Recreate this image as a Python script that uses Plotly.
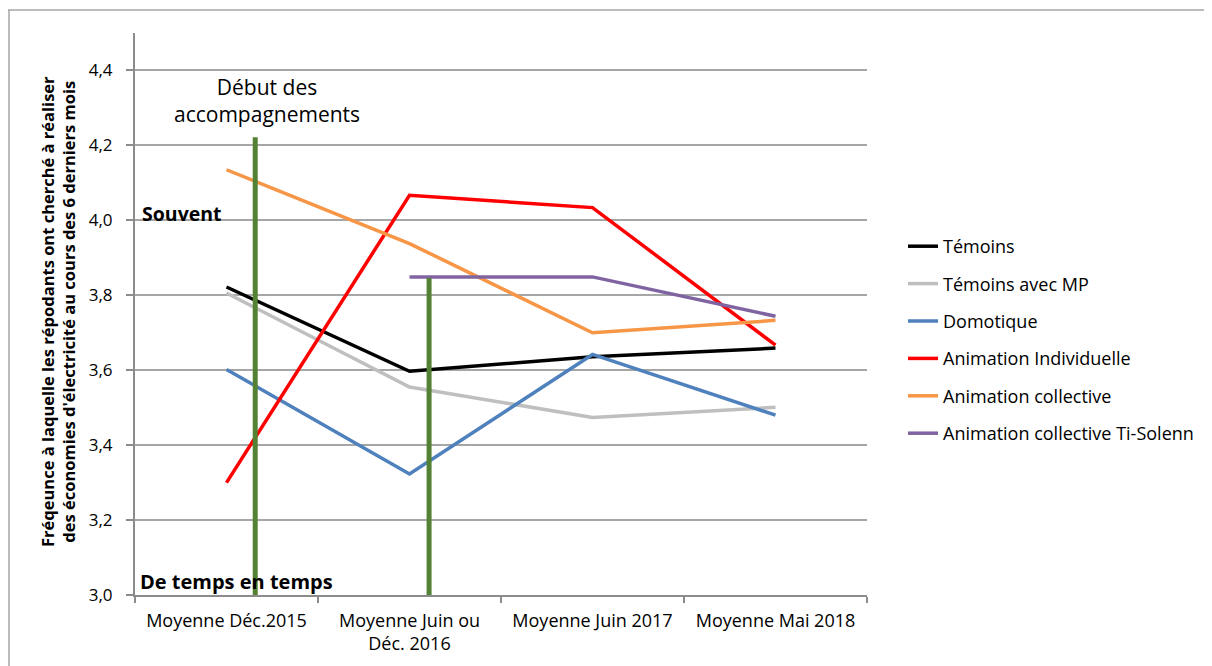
import plotly.graph_objects as go

# categories and series values
periodes = ["Moyenne Déc.2015", "Moyenne Juin ou<br>Déc. 2016", "Moyenne Juin 2017", "Moyenne Mai 2018"]

temoins = [3.822, 3.597, 3.636, 3.659]
temoins_mp = [3.806, 3.555, 3.474, 3.501]
domotique = [3.602, 3.323, 3.642, 3.480]
anim_indiv = [3.300, 4.067, 4.034, 3.667]
anim_coll = [4.135, 3.938, 3.700, 3.733]
anim_ti_solenn = [None, 3.849, 3.849, 3.744]

series_names = ["Témoins", "Témoins avec MP", "Domotique", "Animation Individuelle",
                "Animation collective", "Animation collective Ti-Solenn"]
series_colors = ["#000000", "#BFBFBF", "#4F81BD", "#FF0000", "#F79646", "#8064A2"]

# "Début des accompagnements" markers (category position, top value)
debut_x = [0.157, 1.107]
debut_top = [4.222, 3.846]

y_title = ("Fréqeunce à laquelle les répodants ont cherché à réaliser<br>"
           "des économies d'électricité au cours des 6 derniers mois")

# page body has an 8px margin, so the figure is a bit smaller than the window
OFF = 8
W, H = 1212 - OFF, 666 - OFF
# plot area, in screen pixels
SL, SR, ST, SB = 135, 867, 33, 595
L, R, T, B = SL - OFF, SR - OFF, ST - OFF, SB - OFF
font = "'Open Sans', sans-serif"

fig = go.Figure()

all_series = [temoins, temoins_mp, domotique, anim_indiv, anim_coll, anim_ti_solenn]
for i, (name, vals, col) in enumerate(zip(series_names, all_series, series_colors)):
    fig.add_trace(go.Scatter(
        x=periodes, y=vals, name=name, mode="lines",
        line=dict(color=col, width=3.5),
        legendgroup="g%d" % i,
        connectgaps=False,
    ))

# green vertical markers
for xv, top in zip(debut_x, debut_top):
    fig.add_shape(type="line", xref="x", yref="y", x0=xv, x1=xv, y0=2.995, y1=top,
                  line=dict(color="#548235", width=5), layer="above")

# screen pixel -> paper fraction
px = lambda v: (v - SL) / (SR - SL)
py = lambda v: (SB - v) / (SB - ST)

# outer frame (only top and left edges visible)
fig.add_shape(type="line", xref="paper", yref="paper", x0=px(8), x1=px(1230), y0=py(10), y1=py(10),
              line=dict(color="#A6A6A6", width=1.5))
fig.add_shape(type="line", xref="paper", yref="paper", x0=px(9), x1=px(9), y0=py(10), y1=py(700),
              line=dict(color="#A6A6A6", width=1.5))

fig.add_annotation(x=px(267), y=4.32, xref="paper", yref="y", text="Début des<br>accompagnements",
                   showarrow=False, font=dict(size=21, color="#000000", family=font),
                   xanchor="center", yanchor="middle")
fig.add_annotation(x=px(140), y=4.019, xref="paper", yref="y", text="<b>Souvent</b>",
                   showarrow=False, font=dict(size=19.5, color="#000000", family=font),
                   xanchor="left", yanchor="middle")
fig.add_annotation(x=px(138), y=3.037, xref="paper", yref="y", text="<b>De temps en temps</b>",
                   showarrow=False, font=dict(size=20, color="#000000", family=font),
                   xanchor="left", yanchor="middle")
fig.add_annotation(x=px(58), y=py(312), xref="paper", yref="paper", text="<b>" + y_title + "</b>",
                   showarrow=False, textangle=-90, font=dict(size=16.5, color="#000000", family=font),
                   xanchor="center", yanchor="middle")

fig.update_layout(
    width=W, height=H,
    margin=dict(l=L, r=W - R, t=T, b=H - B),
    paper_bgcolor="white", plot_bgcolor="white",
    separators=", ",
    font=dict(family=font, size=18, color="#000000"),
    showlegend=True,
    legend=dict(x=px(903), y=py(228), xanchor="left", yanchor="top",
                font=dict(size=18, color="#000000", family=font),
                tracegroupgap=11, bgcolor="rgba(0,0,0,0)"),
    xaxis=dict(type="category", range=[-0.5, 3.5], showgrid=False, showline=True,
               linecolor="#8C8C8C", linewidth=2, ticks="outside", tickson="boundaries",
               ticklen=6, tickcolor="#8C8C8C", tickwidth=1.5, ticklabelstandoff=8,
               tickfont=dict(size=18, color="#000000")),
    yaxis=dict(range=[3.0, 4.5], dtick=0.2, tick0=3.0, tickformat=".1f",
               showgrid=True, gridcolor="#A6A6A6", gridwidth=2,
               showline=True, linecolor="#8C8C8C", linewidth=2,
               ticks="outside", ticklen=7, tickcolor="#8C8C8C", tickwidth=1.5, ticklabelstandoff=10,
               tickfont=dict(size=17, color="#000000"), zeroline=False),
)

fig.write_html("out.html")
